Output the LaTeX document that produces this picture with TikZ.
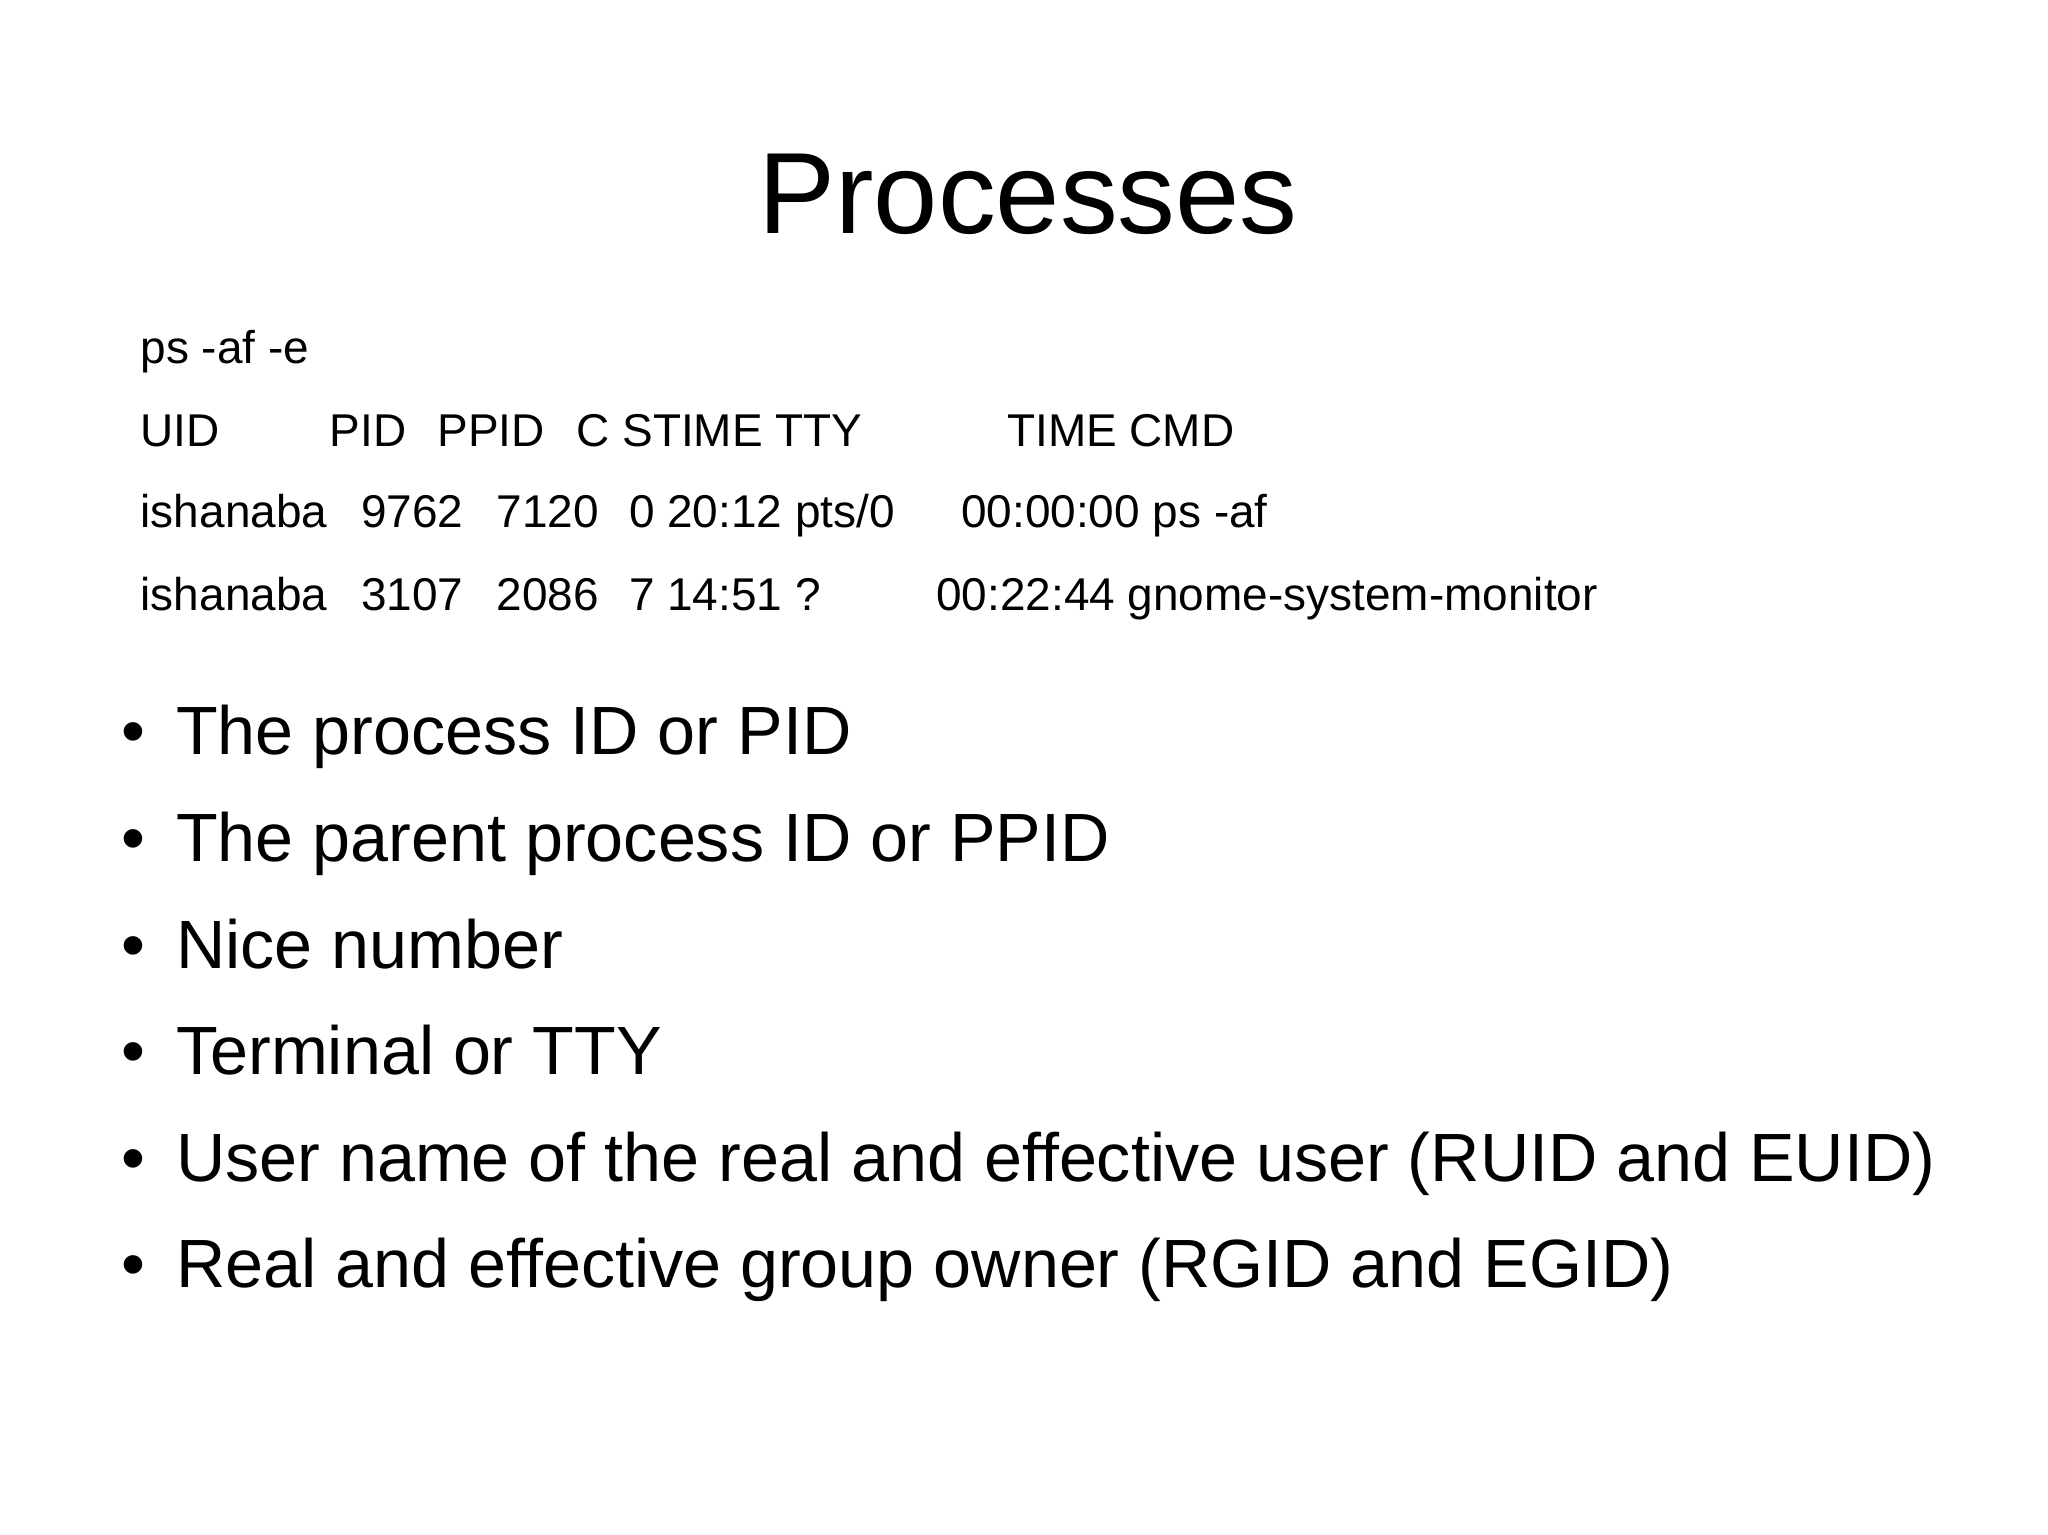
\documentclass[tikz,border=0pt]{standalone}
\usepackage{fontspec}
\setmainfont{Liberation Sans}
\begin{document}
\begin{tikzpicture}[x=1pt,y=-1pt,
  sm/.style={anchor=base west,inner sep=0pt,font=\fontsize{35}{40}\selectfont},
  bl/.style={anchor=base west,inner sep=0pt,font=\fontsize{52}{60}\selectfont}]
\useasboundingbox[fill=white] (0,0) rectangle (1560,1169);
\node[anchor=base,inner sep=0pt,font=\fontsize{88}{100}\selectfont] (title) at (783,178) {Processes};
\node[sm] (c0) at (107,277) {ps -af -e};
\node[sm] (h1) at (107,340) {UID};
\node[sm] (h2) at (251,340) {PID};
\node[sm] (h3) at (333,340) {PPID};
\node[sm] (h4) at (439,340) {C STIME TTY};
\node[sm] (h5) at (767,340) {TIME CMD};
\node[sm] (a1) at (107,402) {ishanaba};
\node[sm] (a2) at (275,402) {9762};
\node[sm] (a3) at (378,402) {7120};
\node[sm] (a4) at (479,402) {0 20:12 pts/0};
\node[sm] (a5) at (732,402) {00:00:00 ps -af};
\node[sm] (b1) at (107,465) {ishanaba};
\node[sm] (b2) at (275,465) {3107};
\node[sm] (b3) at (378,465) {2086};
\node[sm] (b4) at (479,465) {7 14:51 ?};
\node[sm] (b5) at (713,465) {00:22:44 gnome-system-monitor};
\foreach \t [count=\i] in {The process ID or PID,The parent process ID or PPID,Nice number,Terminal or TTY,User name of the real and effective user (RUID and EUID),Real and effective group owner (RGID and EGID)}{
  \node[bl] (d\i) at (92,{575+81.2*(\i-1)}) {•};
  \node[bl] (t\i) at (134,{575+81.2*(\i-1)}) {\t};
}
\end{tikzpicture}
\end{document}
